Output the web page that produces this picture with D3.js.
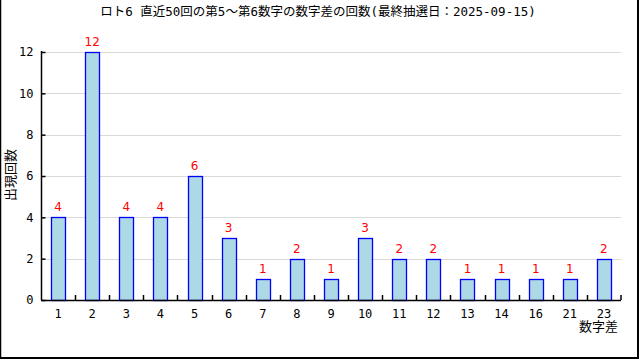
<!DOCTYPE html>
<html><head><meta charset="utf-8">
<script src="https://cdn.jsdelivr.net/npm/d3@7/dist/d3.min.js"></script>
<style>body{margin:0;background:#fff}svg{display:block}</style>
</head><body>
<script>
const title = "ロト6 直近50回の第5～第6数字の数字差の回数(最終抽選日：2025-09-15)";
const categories = ["1","2","3","4","5","6","7","8","9","10","11","12","13","14","16","21","23"];
const counts = [4,12,4,4,6,3,1,2,1,3,2,2,1,1,1,1,2];
const yTicks = [0,2,4,6,8,10,12];
const xLabel = "数字差";
const yLabel = "出現回数";

const W = 640, H = 360;
const mLeft = 41, mRight = 621, mTop = 52, mBottom = 300;
const font = "'Noto Sans CJK JP', sans-serif";
const monoFont = "'DejaVu Sans Mono', 'Noto Sans CJK JP', monospace";

const svg = d3.select("body").append("svg").attr("width", W).attr("height", H)
  .style("font-family", font);

// frame
svg.append("line").attr("x1",0.5).attr("x2",0.5).attr("y1",0).attr("y2",359).attr("stroke","#000").attr("stroke-width",1.5);
svg.append("line").attr("x1",638).attr("x2",638).attr("y1",0).attr("y2",359).attr("stroke","#000").attr("stroke-width",2);
svg.append("line").attr("x1",0).attr("x2",639).attr("y1",358).attr("y2",358).attr("stroke","#000").attr("stroke-width",2);

const x = d3.scaleBand().domain(categories).range([mLeft, mRight]).paddingInner(0).paddingOuter(0);
const y = d3.scaleLinear().domain([0, 12]).range([mBottom, mTop]);

// gridlines
svg.append("g").selectAll("line").data(yTicks.filter(d => d > 0)).join("line")
  .attr("x1", mLeft + 4).attr("x2", mRight)
  .attr("y1", d => Math.round(y(d)) + 0.5).attr("y2", d => Math.round(y(d)) + 0.5)
  .attr("stroke", "#d9d9d9").attr("stroke-width", 1);

// bars
const bw = 14;
svg.append("g").selectAll("rect").data(counts).join("rect")
  .attr("x", (d, i) => Math.round(x(categories[i]) + x.bandwidth()/2 - bw/2) + 0.5)
  .attr("y", d => Math.round(y(d)) + 0.5)
  .attr("width", bw)
  .attr("height", d => mBottom - Math.round(y(d)))
  .attr("fill", "#add8e6").attr("stroke", "#0000ff").attr("stroke-width", 1.3);

// value labels
svg.append("g").selectAll("text").data(counts).join("text")
  .attr("x", (d, i) => x(categories[i]) + x.bandwidth()/2)
  .attr("y", d => y(d) - 6)
  .attr("text-anchor", "middle").attr("fill", "#ff0000").attr("font-size", 12)
  .attr("font-family", "'DejaVu Sans', sans-serif")
  .text(d => d);

// y axis
const yAxis = d3.axisLeft(y).tickValues(yTicks).tickSize(-4).tickPadding(8);
const gy = svg.append("g").attr("transform", `translate(${mLeft + 0.5},0)`).call(yAxis);
gy.select(".domain").attr("d", `M0,${mTop - 1}V${mBottom}`).attr("stroke-width", 1.5);
gy.selectAll(".tick line").attr("stroke-width", 1.5);
gy.selectAll("text").attr("font-size", 12).attr("font-family", monoFont).attr("fill", "#000");

// x axis
const xAxis = d3.axisBottom(x).tickSize(0).tickPadding(9);
const gx = svg.append("g").attr("transform", `translate(0,${mBottom + 0.5})`).call(xAxis);
gx.select(".domain").attr("d", `M${mLeft},0H${mRight}`).attr("stroke-width", 1.5);
gx.selectAll("text").attr("font-size", 12).attr("font-family", monoFont).attr("fill", "#000");
// boundary tick marks (between categories), pointing up
svg.append("g").selectAll("line").data(categories.slice(1).concat(["__end"])).join("line")
  .attr("x1", d => d === "__end" ? mRight : Math.round(x(d)) + 0.5)
  .attr("x2", d => d === "__end" ? mRight : Math.round(x(d)) + 0.5)
  .attr("y1", mBottom - 5).attr("y2", mBottom)
  .attr("stroke", "#000").attr("stroke-width", 1.5);

// title
svg.append("text").attr("x", 318).attr("y", 16).attr("text-anchor", "middle")
  .attr("font-size", 12.5).attr("font-family", monoFont).attr("fill", "#000").text(title);

// axis labels
svg.append("text").attr("x", 618).attr("y", 331).attr("text-anchor", "end")
  .attr("font-size", 13).attr("fill", "#000").text(xLabel);
svg.append("text").attr("transform", "translate(15,175) rotate(-90)").attr("text-anchor", "middle")
  .attr("font-size", 13).attr("fill", "#000").text(yLabel);
</script>
</body></html>
